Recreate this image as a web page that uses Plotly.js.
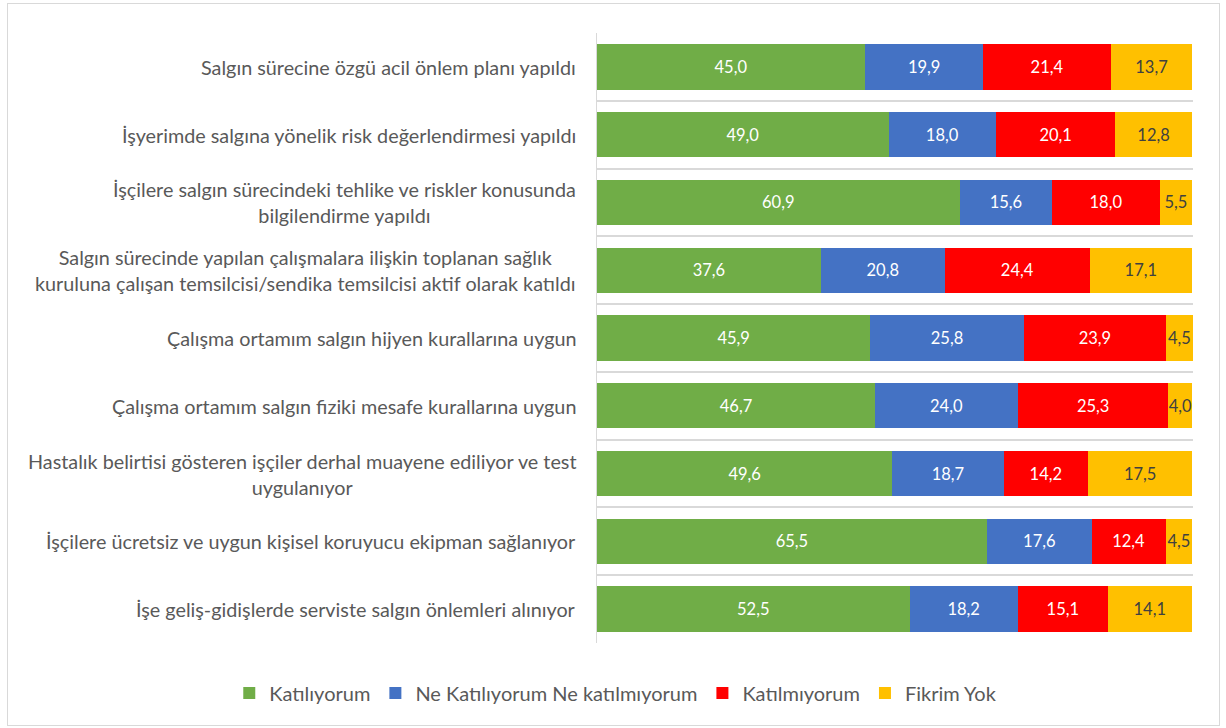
<!DOCTYPE html>
<html>
<head>
<meta charset="utf-8">
<script src="https://cdn.plot.ly/plotly-3.0.1.min.js"></script>
<style>
  html, body { margin: 0; padding: 0; background: #ffffff; }
  #wrap { position: relative; width: 1226px; height: 728px; }
  #chart { width: 1226px; height: 728px; }
  #frame { position: absolute; left: 7px; top: 3px; width: 1213px; height: 723px; border: 1.5px solid #d9d9d9; pointer-events: none; box-sizing: border-box; }
</style>
</head>
<body>
<div id="wrap">
  <div id="chart"></div>
  <div id="frame"></div>
</div>
<script>
const categories = [
  "Salgın sürecine özgü acil önlem planı yapıldı",
  "İşyerimde salgına yönelik risk değerlendirmesi yapıldı",
  "İşçilere salgın sürecindeki tehlike ve riskler konusunda<br>bilgilendirme yapıldı",
  "Salgın sürecinde yapılan çalışmalara ilişkin toplanan sağlık<br>kuruluna çalışan temsilcisi/sendika temsilcisi aktif olarak katıldı",
  "Çalışma ortamım salgın hijyen kurallarına uygun",
  "Çalışma ortamım salgın fiziki mesafe kurallarına uygun",
  "Hastalık belirtisi gösteren işçiler derhal muayene ediliyor ve test<br>uygulanıyor",
  "İşçilere ücretsiz ve uygun kişisel koruyucu ekipman sağlanıyor",
  "İşe geliş-gidişlerde serviste salgın önlemleri alınıyor"
];
const seriesNames = ["Katılıyorum", "Ne Katılıyorum Ne katılmıyorum", "Katılmıyorum", "Fikrim Yok"];
const katiliyorum = [45.0, 49.0, 60.9, 37.6, 45.9, 46.7, 49.6, 65.5, 52.5];
const neKatiliyorum = [19.9, 18.0, 15.6, 20.8, 25.8, 24.0, 18.7, 17.6, 18.2];
const katilmiyorum = [21.4, 20.1, 18.0, 24.4, 23.9, 25.3, 14.2, 12.4, 15.1];
const fikrimYok = [13.7, 12.8, 5.5, 17.1, 4.5, 4.0, 17.5, 4.5, 14.1];

const colors = ["#70ad47", "#4472c4", "#ff0000", "#ffc000"];
const textColors = ["#ffffff", "#ffffff", "#ffffff", "#404040"];
const allValues = [katiliyorum, neKatiliyorum, katilmiyorum, fikrimYok];

const FONT = "Lato, Open Sans, sans-serif";
const FS_BAR = 16.5;
const FS_LABEL = 19.8;
const FS_LEGEND = 20;

const traces = allValues.map((vals, i) => ({
  type: "bar",
  orientation: "h",
  name: seriesNames[i],
  y: categories,
  x: vals,
  marker: { color: colors[i], line: { width: 0 } },
  texttemplate: "%{x:.1f}",
  textposition: "inside",
  insidetextanchor: "middle",
  textangle: 0,
  constraintext: "none",
  cliponaxis: false,
  insidetextfont: { family: FONT, size: FS_BAR, color: textColors[i] },
  hoverinfo: "x+name"
}));

const annotations = categories.map(c => ({
  xref: "paper", yref: "y",
  x: 0, y: c,
  xshift: -19,
  xanchor: "right", yanchor: "middle",
  align: "center",
  text: c,
  showarrow: false,
  font: { family: FONT, size: FS_LABEL, color: "#595959" }
}));

const layout = {
  width: 1226, height: 728,
  margin: { l: 597, r: 33, t: 33, b: 85, pad: 0 },
  barmode: "stack",
  bargap: 0.33,
  separators: ",.",
  paper_bgcolor: "rgba(0,0,0,0)",
  plot_bgcolor: "#ffffff",
  font: { family: FONT, size: FS_LABEL, color: "#595959" },
  xaxis: {
    range: [0, 100.12],
    showgrid: false, zeroline: false, showticklabels: false, ticks: "", showline: false, fixedrange: true
  },
  yaxis: {
    type: "category",
    categoryorder: "array",
    categoryarray: categories,
    autorange: "reversed",
    tickson: "boundaries",
    showgrid: true, gridcolor: "#d9d9d9", gridwidth: 2,
    showline: true, linecolor: "#d9d9d9", linewidth: 1.5,
    showticklabels: false, ticks: "", zeroline: false
  },
  annotations: annotations,
  showlegend: true,
  legend: {
    orientation: "h",
    xref: "paper", yref: "paper",
    x: -0.617, xanchor: "left",
    y: -0.082, yanchor: "middle",
    font: { family: FONT, size: FS_LEGEND, color: "#595959" },
    traceorder: "normal",
    itemclick: false
  }
};

Plotly.newPlot("chart", traces, layout, { displayModeBar: false, staticPlot: true });
</script>
</body>
</html>
